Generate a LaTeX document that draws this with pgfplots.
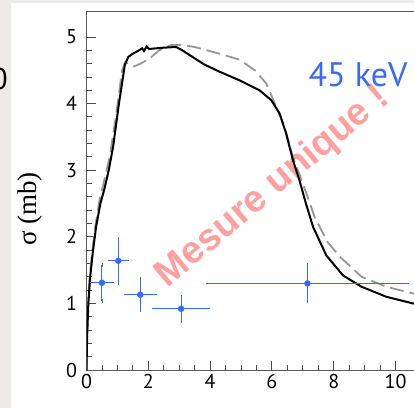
\documentclass[border=0pt]{standalone}
\usepackage{pgfplots}
\pgfplotsset{compat=1.18}
\usepackage{pgfplotstable}
\usepackage{fontspec}
\setmainfont{PT Sans}
\newfontfamily\seriffont{Liberation Serif}
\newfontfamily\boldsans{Liberation Sans}
\definecolor{bg}{RGB}{239,234,234}
\definecolor{myblue}{RGB}{55,105,255}
\definecolor{mypink}{RGB}{255,160,160}
\definecolor{dgray}{RGB}{150,150,150}

\pgfplotstableread{
x y
0.00 0.00
0.02 0.50
0.06 1.00
0.12 1.40
0.20 1.75
0.31 2.15
0.45 2.50
0.58 2.72
0.72 3.00
0.86 3.35
1.05 4.00
1.24 4.58
1.35 4.70
1.50 4.75
1.70 4.80
1.80 4.83
1.86 4.79
1.95 4.86
2.02 4.82
2.50 4.84
2.90 4.85
3.10 4.80
3.50 4.68
3.80 4.59
4.30 4.48
4.95 4.35
5.60 4.20
5.98 4.05
6.25 3.85
6.46 3.55
6.68 3.15
6.89 2.85
7.10 2.50
7.33 2.15
7.76 1.72
8.30 1.42
8.90 1.25
9.70 1.10
10.56 1.00
11.00 0.96
}\blackcurve

\pgfplotstableread{
x y
0.00 0.00
0.02 0.50
0.05 1.00
0.10 1.40
0.18 1.75
0.28 2.15
0.42 2.55
0.55 2.80
0.75 3.20
0.95 3.80
1.15 4.50
1.25 4.62
1.40 4.60
1.55 4.56
1.75 4.60
2.05 4.68
2.35 4.80
2.75 4.88
3.10 4.88
3.50 4.85
4.30 4.75
4.95 4.66
5.45 4.50
5.82 4.30
6.14 3.95
6.41 3.65
6.68 3.20
7.00 2.80
7.38 2.30
7.80 1.92
8.20 1.70
8.90 1.40
9.70 1.25
10.56 1.15
11.00 1.10
}\graycurve

\pgfplotstableread{
x y ex ey
0.50 1.31 0.32 0.27
1.03 1.64 0.28 0.33
1.74 1.13 0.47 0.23
3.06 0.92 0.87 0.18
7.15 1.30 3.22 0.27
}\points

\begin{document}
\begin{tikzpicture}
\useasboundingbox (0,0) rectangle (414pt,408pt);
\clip (0,0) rectangle (414pt,408pt);
\fill[bg] (0,0) rectangle (414pt,408pt);
\fill[white] (11pt,0) rectangle (414pt,404.5pt);
\node[anchor=east, inner sep=0, font=\fontsize{30}{30}\selectfont] at (8pt,329pt) {0};
\node[rotate=90, font=\seriffont\fontsize{27}{27}\selectfont, inner sep=0] at (30pt,199pt) {σ (mb)};
\node[rotate=40, text=mypink, font=\boldsans\bfseries\fontsize{38}{38}\selectfont, inner sep=0] at (273pt,221pt) {Mesure unique !};
\node[text=myblue, font=\fontsize{34}{34}\selectfont, inner sep=0] at (358pt,333pt) {45 keV};
\begin{axis}[
  scale only axis, width=355.4pt, height=358.3pt,
  at={(86.5pt,38pt)}, anchor=south west,
  xmin=0, xmax=11.5, ymin=0, ymax=5.38,
  axis line style={draw=black!65, line width=0.9pt},
  xtick={0,2,...,10}, ytick={0,1,...,5},
  minor x tick num=3, minor y tick num=4,
  tick align=inside, xtick pos=bottom, ytick pos=left,
  major tick length=9pt, minor tick length=5pt,
  every tick/.style={black!70, line width=0.9pt},
  tick label style={font=\fontsize{20}{20}\selectfont},
  /pgf/number format/assume math mode=true,
  yticklabel style={xshift=-6pt},
  xticklabel style={yshift=-1pt},
]
\addplot[dgray, line width=1.8pt, dash pattern=on 14pt off 6pt] table[x=x,y=y] {\graycurve};
\addplot[black, line width=2pt] table[x=x,y=y] {\blackcurve};
\addplot[myblue, only marks, mark=*, mark size=3pt,
  error bars/.cd, x dir=both, x explicit, y dir=both, y explicit,
  error bar style={line width=1pt, myblue},
  error mark options={myblue, mark size=2pt, line width=0.8pt}]
  table[x=x, y=y, x error=ex, y error=ey] {\points};
\end{axis}
\end{tikzpicture}
\end{document}
